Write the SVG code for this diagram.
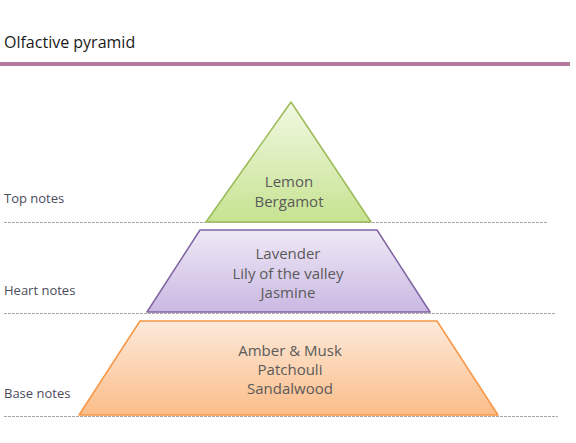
<svg xmlns="http://www.w3.org/2000/svg" width="576" height="443" viewBox="0 0 576 443">
<defs>
<linearGradient id="gGreen" x1="0" y1="0" x2="0" y2="1"><stop offset="0" stop-color="#f1f8e2"/><stop offset="1" stop-color="#c6e391"/></linearGradient>
<linearGradient id="gPurple" x1="0" y1="0" x2="0" y2="1"><stop offset="0" stop-color="#efe9f6"/><stop offset="1" stop-color="#cab8e2"/></linearGradient>
<linearGradient id="gOrange" x1="0" y1="0" x2="0" y2="1"><stop offset="0" stop-color="#fdeadb"/><stop offset="1" stop-color="#fbbd89"/></linearGradient>
<style>
.lbl{font-family:"Open Sans","Liberation Sans",sans-serif;font-size:13px;fill:#4b4b5b}
.in{font-family:"Open Sans","Liberation Sans",sans-serif;font-size:15px;fill:#5a5a5a;text-anchor:middle}
.dl{stroke:#a8a8a8;stroke-width:1;stroke-dasharray:3 1;fill:none}
</style>
</defs>
<rect width="576" height="443" fill="#fff"/>
<text x="4" y="48" font-family="'Open Sans','Liberation Sans',sans-serif" font-size="16" fill="#1a1a1a">Olfactive pyramid</text>
<rect x="0" y="62" width="570" height="4" fill="#b57a9e"/>
<g id="connectors">
<line class="dl" x1="4" y1="222.5" x2="548" y2="222.5"/>
<line class="dl" x1="4" y1="313.5" x2="556" y2="313.5"/>
<line class="dl" x1="4" y1="416.5" x2="558" y2="416.5"/>
</g>
<g id="top">
<polygon points="291,102 371,222 206,222" fill="url(#gGreen)" stroke="#9bbb59" stroke-width="1.5" stroke-linejoin="round"/>
<text class="in" x="289" y="187">Lemon</text>
<text class="in" x="289" y="207">Bergamot</text>
</g>
<g id="heart">
<polygon points="200,230 377,230 430,312 147,312" fill="url(#gPurple)" stroke="#8064a2" stroke-width="1.5" stroke-linejoin="round"/>
<text class="in" x="288" y="259">Lavender</text>
<text class="in" x="288" y="279">Lily of the valley</text>
<text class="in" x="288" y="298">Jasmine</text>
</g>
<g id="base">
<polygon points="140,321 437,321 498,415 79,415" fill="url(#gOrange)" stroke="#f79646" stroke-width="1.5" stroke-linejoin="round"/>
<text class="in" x="290" y="356">Amber &amp; Musk</text>
<text class="in" x="290" y="375">Patchouli</text>
<text class="in" x="290" y="394">Sandalwood</text>
</g>
<g id="labels">
<text class="lbl" x="4" y="203">Top notes</text>
<text class="lbl" x="4" y="295">Heart notes</text>
<text class="lbl" x="4" y="398">Base notes</text>
</g>
</svg>
